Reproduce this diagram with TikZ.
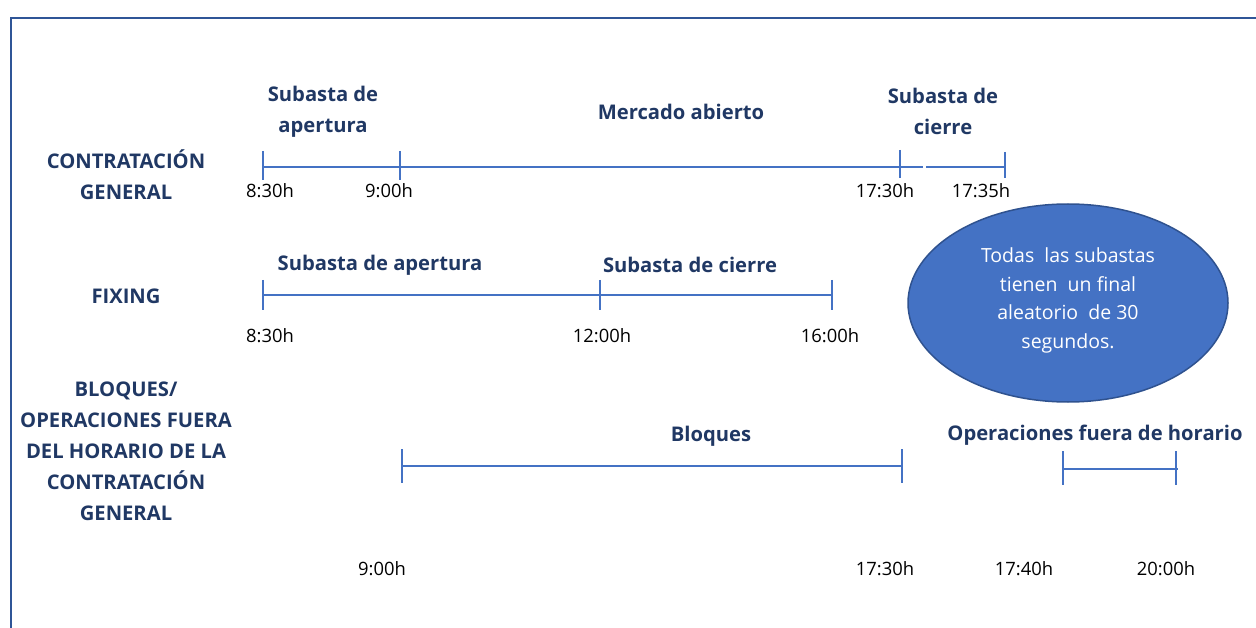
\documentclass[tikz,border=0pt]{standalone}
\usepackage{fontspec}
\setmainfont{Open Sans}
\usetikzlibrary{shapes.geometric}
\definecolor{navy}{HTML}{203864}
\definecolor{lineblue}{HTML}{4472C4}
\definecolor{frameblue}{HTML}{2F5597}
\definecolor{ellborder}{HTML}{2F528F}
\tikzset{
  hdr/.style={font=\fontsize{20.2}{31}\selectfont\bfseries, text=navy, align=center, inner sep=0pt},
  tm/.style={font=\fontsize{18.4}{20}\selectfont, text=black, inner sep=0pt},
  tl/.style={draw=lineblue, line width=1.2pt},
}
\begin{document}
\begin{tikzpicture}[x=1pt,y=-1pt]
\useasboundingbox (0,0) rectangle (1256,628);
% frame
\draw[frameblue, line width=2pt] (11,640) -- (11,18) -- (1270,18);

% row labels
\node[hdr] (lab1) at (126,175) {CONTRATACIÓN\\GENERAL};
\node[hdr] (lab2) at (126,296) {FIXING};
\node[hdr] (lab3) at (126,451) {BLOQUES/\\OPERACIONES FUERA\\DEL HORARIO DE LA\\CONTRATACIÓN\\GENERAL};

% row 1
\coordinate (a1t) at (263,151); \coordinate (a1b) at (263,180);
\coordinate (a2t) at (400,151); \coordinate (a2b) at (400,180);
\coordinate (a3t) at (900,150); \coordinate (a3b) at (900,178);
\coordinate (a4t) at (1005,152); \coordinate (a4b) at (1005,178);
\coordinate (a1) at (263,167); \coordinate (a3e) at (923,167);
\coordinate (a4s) at (926,167); \coordinate (a4) at (1005,167);
\draw[tl] (a1t) -- (a1b);
\draw[tl] (a2t) -- (a2b);
\draw[tl] (a3t) -- (a3b);
\draw[tl] (a4t) -- (a4b);
\draw[tl] (a1) -- (a3e);
\draw[tl] (a4s) -- (a4);
\node[hdr] (sa1) at (323,111.5) {Subasta de\\apertura};
\node[hdr] (ma) at (681,112) {Mercado abierto};
\node[hdr] (sc1) at (943,111.5) {Subasta de\\cierre};
\node[tm] (t11) at (270,191) {8:30h};
\node[tm] (t12) at (389,191) {9:00h};
\node[tm] (t13) at (885,191) {17:30h};
\node[tm] (t14) at (981,191) {17:35h};

% row 2
\coordinate (b1t) at (263,280); \coordinate (b1b) at (263,310);
\coordinate (b2t) at (600,280); \coordinate (b2b) at (600,310);
\coordinate (b3t) at (832,280); \coordinate (b3b) at (832,310);
\coordinate (b1) at (263,295); \coordinate (b3) at (832,295);
\draw[tl] (b1t) -- (b1b);
\draw[tl] (b2t) -- (b2b);
\draw[tl] (b3t) -- (b3b);
\draw[tl] (b1) -- (b3);
\node[hdr] (sa2) at (380,265) {Subasta de apertura};
\node[hdr] (sc2) at (690,265) {Subasta de cierre};
\node[tm] (t21) at (270,336) {8:30h};
\node[tm] (t22) at (602,336) {12:00h};
\node[tm] (t23) at (830,336) {16:00h};

% row 3
\coordinate (c1t) at (402,449); \coordinate (c1b) at (402,483);
\coordinate (c2t) at (902,449); \coordinate (c2b) at (902,483);
\coordinate (c1) at (402,466); \coordinate (c2) at (902,466);
\coordinate (d1t) at (1063,451); \coordinate (d1b) at (1063,485);
\coordinate (d2t) at (1176,451); \coordinate (d2b) at (1176,485);
\coordinate (d1) at (1063,469); \coordinate (d2) at (1178,469);
\draw[tl] (c1t) -- (c1b);
\draw[tl] (c2t) -- (c2b);
\draw[tl] (c1) -- (c2);
\draw[tl] (d1t) -- (d1b);
\draw[tl] (d2t) -- (d2b);
\draw[tl] (d1) -- (d2);
\node[hdr] (bl) at (711,436) {Bloques};
\node[hdr] (ofh) at (1095,435) {Operaciones fuera de horario};
\node[tm] (t31) at (382,569) {9:00h};
\node[tm] (t32) at (885,569) {17:30h};
\node[tm] (t33) at (1024,569) {17:40h};
\node[tm] (t34) at (1166,569) {20:00h};

% ellipse note
\node[ellipse, draw=ellborder, line width=1.5pt, fill=lineblue, minimum width=320pt, minimum height=198pt, inner sep=0pt] (note) at (1068,303) {};
\node[font=\fontsize{19.5}{28.5}\selectfont, text=white, align=center, inner sep=0pt] (notetext) at (1068,300.5) {Todas\ \ las subastas\\tienen\ \ un final\\aleatorio\ \ de 30\\segundos.};
\end{tikzpicture}
\end{document}
